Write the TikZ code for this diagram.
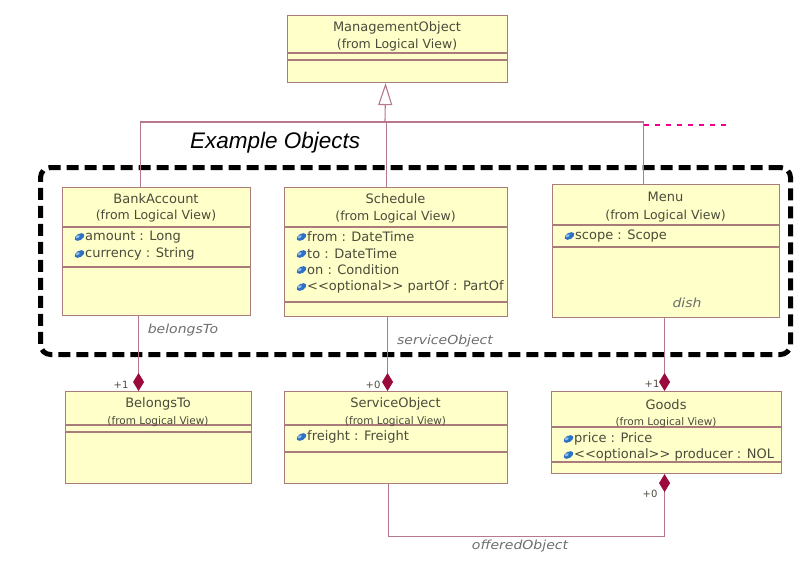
\documentclass[tikz,border=0pt]{standalone}
\usepackage{fontspec}
\setmainfont{DejaVu Sans}
\newfontfamily\rolefont{DejaVu Sans}[FakeStretch=1.12]
\newfontfamily\titlefont{Liberation Sans}
\usetikzlibrary{arrows.meta}

\definecolor{boxfill}{HTML}{FFFFCA}
\definecolor{boxline}{HTML}{A97B7B}
\definecolor{linkc}{HTML}{B8788C}
\definecolor{dmd}{HTML}{9B0A3C}
\definecolor{txt}{HTML}{4B4B3B}
\definecolor{rolec}{HTML}{6E6E6E}
\definecolor{iconc}{HTML}{2F72C4}
\definecolor{iconhi}{HTML}{8FC3EE}

\tikzset{
  classbox/.style={draw=boxline, fill=boxfill, line width=1.1pt, inner sep=0pt, anchor=north west},
  sepline/.style={draw=boxline, line width=1.1pt},
  nametext/.style={font=\fontsize{13}{15}\selectfont, text=txt, inner sep=0pt},
  fromtext/.style={font=\fontsize{12.5}{15}\selectfont, text=txt, inner sep=0pt},
  smallfrom/.style={font=\fontsize{10.5}{12}\selectfont, text=txt, inner sep=0pt},
  attr/.style={font=\fontsize{13}{15}\selectfont, text=txt, inner sep=0pt, anchor=west},
  role/.style={font=\rolefont\itshape\fontsize{12.5}{15}\selectfont, text=rolec, inner sep=0pt},
  mult/.style={font=\fontsize{10}{12}\selectfont, text=txt, inner sep=0pt},
  link/.style={draw=linkc, line width=1.1pt},
  compose/.style={link, -{Diamond[length=18pt, width=11pt, color=dmd, fill=dmd]}},
  inherit/.style={link, -{Triangle[open, length=22pt, width=14pt, color=linkc, fill=white]}},
  groupframe/.style={draw=black, line width=5pt, dash pattern=on 12pt off 6pt,
                     rounded corners=10pt, inner sep=0pt, anchor=north west},
  grouptitle/.style={font=\titlefont\itshape\fontsize{22.5}{26}\selectfont, text=black, inner sep=0pt}
}

% blue attribute marker placed just left of an attribute text node
\newcommand\attricon[1]{%
  \begin{scope}[shift={([xshift=-5.5pt]#1.west)}, rotate=30]
    \fill[iconc] (0,0) ellipse (5.3pt and 3.2pt);
    \fill[iconhi] (-1.5pt,1.1pt) ellipse (2.2pt and 1.2pt);
  \end{scope}}
\newcommand\dlt{<\kern0pt<}
\newcommand\dgt{>\kern0pt>}

\begin{document}
\begin{tikzpicture}[x=1pt, y=-1pt]
\useasboundingbox (0,0) rectangle (794,584);

% ---------- ManagementObject ----------
\node[classbox, minimum width=220pt, minimum height=67pt] (mgr) at (287,15) {};
\draw[sepline] (287,53) -- (507,53);
\draw[sepline] (287,60) -- (507,60);
\node[nametext] (mgrname) at (397,28) {ManagementObject};
\node[fromtext] (mgrfrom) at (397,45) {(from Logical View)};

% ---------- group frame ----------
\node[groupframe, minimum width=750pt, minimum height=187pt] (example) at (38,165) {};
\node[grouptitle, anchor=base west] (extitle) at (190,148) {Example Objects};

% ---------- BankAccount ----------
\node[classbox, minimum width=188pt, minimum height=128pt] (bank) at (62,187) {};
\draw[sepline] (62,227) -- (250,227);
\draw[sepline] (62,267) -- (250,267);
\node[nametext] (bankname) at (156,199) {BankAccount};
\node[fromtext] (bankfrom) at (156,216) {(from Logical View)};
\node[attr] (banka1) at (85,237) {amount : Long};
\node[attr] (banka2) at (85,254) {currency : String};
\attricon{banka1}\attricon{banka2}

% ---------- Schedule ----------
\node[classbox, minimum width=223pt, minimum height=129pt] (sched) at (284,187) {};
\draw[sepline] (284,227) -- (507,227);
\draw[sepline] (284,302) -- (507,302);
\node[nametext] (schedname) at (395.5,199) {Schedule};
\node[fromtext] (schedfrom) at (395.5,217) {(from Logical View)};
\node[attr] (scheda1) at (307,237) {from : DateTime};
\node[attr] (scheda2) at (307,254) {to : DateTime};
\node[attr] (scheda3) at (307,270) {on : Condition};
\node[attr] (scheda4) at (307,287) {\dlt optional\dgt{} partOf : PartOf};
\attricon{scheda1}\attricon{scheda2}\attricon{scheda3}\attricon{scheda4}

% ---------- Menu ----------
\node[classbox, minimum width=227pt, minimum height=133pt] (menu) at (552,184) {};
\draw[sepline] (552,225) -- (779,225);
\draw[sepline] (552,247) -- (779,247);
\node[nametext] (menuname) at (665.5,197) {Menu};
\node[fromtext] (menufrom) at (665.5,216) {(from Logical View)};
\node[attr] (menua1) at (575,236) {scope : Scope};
\attricon{menua1}

% ---------- BelongsTo ----------
\node[classbox, minimum width=186pt, minimum height=92pt] (belongs) at (65,391) {};
\draw[sepline] (65,425) -- (251,425);
\draw[sepline] (65,432) -- (251,432);
\node[nametext] (belongsname) at (158,404) {BelongsTo};
\node[smallfrom] (belongsfrom) at (158,422) {(from Logical View)};

% ---------- ServiceObject ----------
\node[classbox, minimum width=223pt, minimum height=92pt] (svc) at (284,391) {};
\draw[sepline] (284,425) -- (507,425);
\draw[sepline] (284,452) -- (507,452);
\node[nametext] (svcname) at (395.5,404) {ServiceObject};
\node[smallfrom] (svcfrom) at (395.5,422) {(from Logical View)};
\node[attr] (svca1) at (307,437) {freight : Freight};
\attricon{svca1}

% ---------- Goods ----------
\node[classbox, minimum width=230pt, minimum height=82pt] (goods) at (551,391) {};
\draw[sepline] (551,427) -- (781,427);
\draw[sepline] (551,462) -- (781,462);
\node[nametext] (goodsname) at (666,405) {Goods};
\node[smallfrom] (goodsfrom) at (666,423) {(from Logical View)};
\node[attr] (goodsa1) at (574,439) {price : Price};
\node[attr] (goodsa2) at (574,455) {\dlt optional\dgt{} producer : NOL};
\attricon{goodsa1}\attricon{goodsa2}

% ---------- generalization ----------
\coordinate (bus) at (385,122);
\draw[link] ([xshift=-16pt]bank.north) |- (bus) -| ([xshift=-22.5pt]menu.north);
\draw[link] ([xshift=-9.5pt]sched.north) -- ([xshift=-9.5pt]sched.north |- bus);
\draw[inherit] (bus) -- ([xshift=-12pt]mgr.south);
\draw[magenta, line width=1.6pt, dash pattern=on 5pt off 6pt]
  ([xshift=-22.5pt]menu.north |- 0,125) -- ++(84,0) coordinate (dashend);

% ---------- compositions ----------
\draw[compose] ([xshift=-18pt]bank.south) -- ([xshift=-20pt]belongs.north);
\draw[compose] ([xshift=-8.5pt]sched.south) -- ([xshift=-8.5pt]svc.north);
\draw[compose] ([xshift=-1.5pt]menu.south) -- ([xshift=-2pt]goods.north);
\draw[compose] ([xshift=-7.5pt]svc.south) -- ++(0,52) -| ([xshift=-2pt]goods.south);

% ---------- role names and multiplicities ----------
\node[role] (rbelongs) at (183,330) {belongsTo};
\node[role] (rservice) at (445,341) {serviceObject};
\node[role] (rdish) at (687,303) {dish};
\node[role] (roffered) at (520,546) {offeredObject};
\node[mult] (m1) at (121,385) {+1};
\node[mult] (m2) at (373,385) {+0};
\node[mult] (m3) at (652,384) {+1};
\node[mult] (m4) at (650,494) {+0};
\end{tikzpicture}
\end{document}
